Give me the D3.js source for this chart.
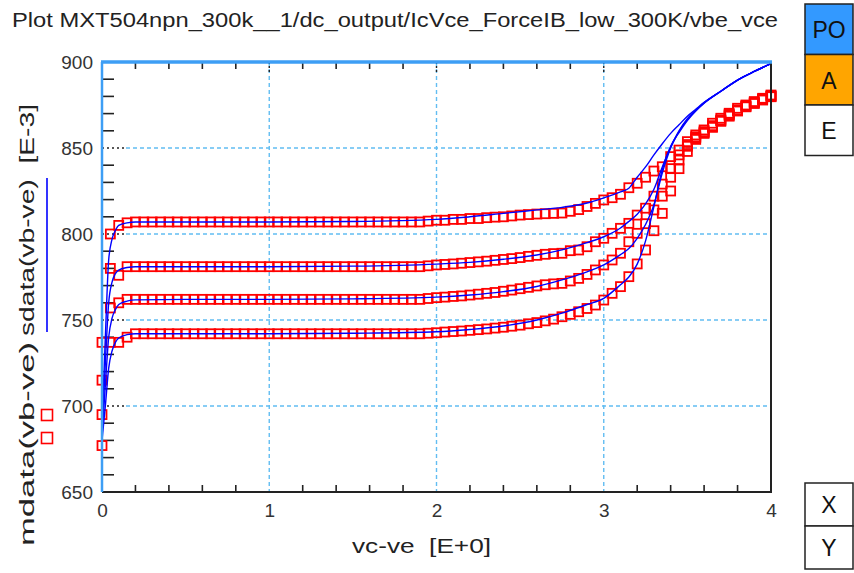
<!DOCTYPE html>
<html><head><meta charset="utf-8">
<script src="https://cdn.jsdelivr.net/npm/d3@7"></script>
<style>body{margin:0;background:#fff;} svg{display:block;font-family:"Liberation Sans",Arial,sans-serif;} text.pre{white-space:pre;}</style>
</head><body><svg id="c" width="854" height="573"></svg>
<script>
const titleText = "Plot MXT504npn_300k__1/dc_output/IcVce_ForceIB_low_300K/vbe_vce";
const xLabel = "vc-ve  [E+0]";
const yLabelSim = "sdata(vb-ve)  [E-3]";
const yLabelMeas = "mdata(vb-ve)";
const xTicks = [0,1,2,3,4];
const yTicks = [650,700,750,800,850,900];
const buttonsTop = ["PO","A","E"];
const buttonsBottom = ["X","Y"];

// measured x grid (V)
const mX = [0,0.05,0.1,0.15,0.2,0.25,0.3,0.35,0.4,0.45,0.5,0.55,0.6,0.65,0.7,0.75,0.8,0.85,0.9,0.95,
1.0,1.05,1.1,1.15,1.2,1.25,1.3,1.35,1.4,1.45,1.5,1.55,1.6,1.65,1.7,1.75,1.8,1.85,1.9,1.95,
2.0,2.05,2.1,2.15,2.2,2.25,2.3,2.35,2.4,2.45,2.5,2.55,2.6,2.65,2.7,2.75,2.8,2.85,2.9,2.95,
3.0,3.05,3.1,3.15,3.2,3.25,3.3,3.35,3.4,3.45,3.5,3.55,3.6,3.65,3.7,3.75,3.8,3.85,3.9,3.95,4.0];

// measured vb-ve (mV)
const meas1 = [737,800,805,806.5,807,807,807,807,807,807,807,807,807,807,807,807,807,807,807,807,
807,807,807,807,807,807,807,807,807,807,807,807,807,807,807,807,807,807,807,807.5,
808,808,808.5,808.5,809,809,809.5,809.8,810,810.5,811,811.3,811.6,811.8,812,812.2,813.2,814.2,816,817.8,
819.8,821.1,823.1,826.9,829.5,833,836.6,839.1,845,848.8,853.7,857.6,860.5,864.4,867.3,870.2,873.1,875,877,878.9,880.8];
const meas2 = [715,780,776,781,781,781,781,781,781,781,781,781,781,781,781,781,781,781,781,781,
781,781,781,781,781,781,781,781,781,781,781,781,781,781,781,781,781,781,781,781.5,
782,782.3,782.6,783,783.4,783.8,784.2,784.7,785.2,785.7,786.3,787,787.6,788.2,788.6,788.8,790.3,790.7,792.6,795.5,
797.5,800.4,803.3,806.2,811,815,822,829,838,846,852,856.5,859.5,863,866.3,869,872,874,876,878,880];
const meas3 = [695,757,760,762,762,762,762,762,762,762,762,762,762,762,762,762,762,762,762,762,
762,762,762,762,762,762,762,762,762,762,762,762,762,762,762,762,762,762,762,762.5,
763,763.3,763.7,764,764.5,765,765.5,766,766.7,767.4,768.2,769,769.8,770.5,771,771.3,772.7,774.2,776.5,779.1,
782,784.9,788.8,795.5,800.4,806,814,822,833,843,851,856,859,862.5,866,869.5,872,874.5,876.5,878.5,880.3];
const meas4 = [677,737,737,740,742,742,742,742,742,742,742,742,742,742,742,742,742,742,742,742,
742,742,742,742,742,742,742,742,742,742,742,742,742,742,742,742,742,742,742,742.3,
742.6,743,743.3,743.6,744,744.4,744.8,745.3,745.8,746.4,747,747.8,748.5,749.5,750.5,751.9,753.3,754.8,756.7,758.7,
761.6,765.5,769.4,775.2,782.6,790.7,801.9,812,825,838,848,855,858.5,862,865.5,868.5,871.5,874,876,878,879.8];

// simulated x grid (V)
const sX = [0,0.02,0.04,0.06,0.08,0.1,0.15,0.2,0.5,1.0,1.5,2.0,2.2,2.4,2.6,2.75,2.9,3.0,3.1,3.15,3.2,3.25,3.3,3.35,3.4,3.45,3.5,3.55,3.6,3.7,3.8,3.9,4.0];
const sim1 = [690,740,785,797,802,805,806.5,807,807,807,807.3,808.5,810,812,814,815.5,818,821,824.5,826.6,833,839,846,852.5,858.5,863.5,868.5,872.5,876.5,883,889.5,894.5,899];
const sim2 = [685,725,760,772,777,779,780.5,781,781,781,781.3,782.5,783.5,785.3,787.8,790.8,795,798.4,803.5,807.3,811.5,817.5,826,839,850.5,860,867,872,876.3,883,889.5,894.5,899];
const sim3 = [682,712,740,751,756,759,761,761.7,762,762,762.3,763.3,764.5,766.5,769.5,773.3,778,782,788,791.5,797.5,805.5,817,835.5,850,859.5,866.5,871.7,876.2,883,889.5,894.5,899];
const sim4 = [680,700,722,732,737,739.5,741.5,742,742,742,742.3,743.2,744.5,746.5,750,754,759,762.6,770.5,775,782.5,796,816,837.5,851,859,866,871.5,876,883,889.5,894.5,899];

const measSeries = [meas1, meas2, meas3, meas4];
const simSeries = [sim1, sim2, sim3, sim4];

const svg = d3.select("#c");
const x = d3.scaleLinear().domain([0,4]).range([102,771]);
const y = d3.scaleLinear().domain([650,900]).range([492,62]);

const gridColor = "#62bdf2";
const axisBlue = "#3d9ef5";

// grid
const gGrid = svg.append("g");
gGrid.selectAll("line.gy").data(yTicks.filter(d=>d>650 && d<900)).join("line")
  .attr("x1", x(0)+24).attr("x2", x(4)).attr("y1", d=>y(d)).attr("y2", d=>y(d))
  .attr("stroke", gridColor).attr("stroke-width",1.4).attr("stroke-dasharray","4,3");
gGrid.selectAll("line.gyb").data(yTicks.filter(d=>d>650 && d<900)).join("line")
  .attr("x1", x(0)).attr("x2", x(0)+24).attr("y1", d=>y(d)).attr("y2", d=>y(d))
  .attr("stroke", "#222").attr("stroke-width",1.4).attr("stroke-dasharray","2,3");
gGrid.selectAll("line.gx").data(xTicks.filter(d=>d>0 && d<4)).join("line")
  .attr("x1", d=>x(d)).attr("x2", d=>x(d)).attr("y1", y(900)).attr("y2", y(650))
  .attr("stroke", gridColor).attr("stroke-width",1.4).attr("stroke-dasharray","4,3");
gGrid.selectAll("line.gxb").data(xTicks.filter(d=>d>0 && d<4)).join("line")
  .attr("x1", d=>x(d)).attr("x2", d=>x(d)).attr("y1", y(900)).attr("y2", y(900)+10)
  .attr("stroke", "#222").attr("stroke-width",1.4).attr("stroke-dasharray","2,2");

// minor ticks
const yMinor = d3.range(660, 900, 10).filter(d => d % 50 !== 0);
const xMinor = d3.range(1, 20).map(i => i*0.2).filter(d => Math.abs(d - Math.round(d)) > 1e-6);
svg.append("g").selectAll("line").data(yMinor).join("line")
  .attr("x1", x(0)).attr("x2", x(0)+12).attr("y1", d=>y(d)).attr("y2", d=>y(d))
  .attr("stroke", "#222").attr("stroke-width", 1.6);
svg.append("g").selectAll("line").data(xMinor).join("line")
  .attr("x1", d=>x(d)).attr("x2", d=>x(d)).attr("y1", y(650)).attr("y2", y(650)-7)
  .attr("stroke", "#222").attr("stroke-width", 1.6);
svg.append("g").selectAll("line").data(xMinor).join("line")
  .attr("x1", d=>x(d)).attr("x2", d=>x(d)).attr("y1", y(900)).attr("y2", y(900)+7)
  .attr("stroke", "#222").attr("stroke-width", 1.6);

// measured squares
const colorsM = "#ff0000";
measSeries.forEach(series => {
  svg.append("g").selectAll("rect").data(mX.map((v,i)=>[v, series[i]])).join("rect")
    .attr("x", d => x(d[0]) - 4.5).attr("y", d => y(d[1]) - 4.5)
    .attr("width", 9).attr("height", 9)
    .attr("fill", "none").attr("stroke", colorsM).attr("stroke-width", 1.8);
});

// simulated lines
const line = d3.line().x(d => x(d[0])).y(d => y(d[1])).curve(d3.curveMonotoneX);
simSeries.forEach(series => {
  svg.append("path").datum(sX.map((v,i)=>[v, series[i]]))
    .attr("d", line).attr("fill", "none").attr("stroke", "#0000ff").attr("stroke-width", 1.4);
});

// frame
svg.append("line").attr("x1", x(4)).attr("x2", x(4)).attr("y1", y(900)).attr("y2", y(650)+1)
  .attr("stroke", "#222").attr("stroke-width", 2);
svg.append("line").attr("x1", x(0)).attr("x2", x(4)+1).attr("y1", y(650)).attr("y2", y(650))
  .attr("stroke", "#222").attr("stroke-width", 2);
svg.append("line").attr("x1", x(0)).attr("x2", x(0)).attr("y1", y(900)).attr("y2", y(650))
  .attr("stroke", axisBlue).attr("stroke-width", 2.5);
svg.append("line").attr("x1", x(0)-1).attr("x2", x(4)+1).attr("y1", y(900)).attr("y2", y(900))
  .attr("stroke", axisBlue).attr("stroke-width", 3.5);

// axes labels via d3 axes
const ax = svg.append("g").attr("transform", `translate(0,${y(650)})`)
  .call(d3.axisBottom(x).tickValues(xTicks).tickFormat(d3.format("d")).tickSize(0).tickPadding(12));
ax.select(".domain").remove();
ax.selectAll("text").attr("font-size", 19).attr("fill", "#333").attr("font-family", "Liberation Sans, Arial, sans-serif");
const ay = svg.append("g").attr("transform", `translate(${x(0)},0)`)
  .call(d3.axisLeft(y).tickValues(yTicks).tickFormat(d3.format("d")).tickSize(0).tickPadding(9));
ay.select(".domain").remove();
ay.selectAll("text").attr("font-size", 19).attr("fill", "#333").attr("font-family", "Liberation Sans, Arial, sans-serif");

// title
svg.append("text").attr("x", 12).attr("y", 27).attr("font-size", 20).attr("fill", "#222")
  .attr("textLength", 766).attr("lengthAdjust", "spacingAndGlyphs").text(titleText);

// x label
svg.append("text").attr("class","pre").attr("xml:space","preserve").attr("x", 352).attr("y", 553).attr("font-size", 20).attr("fill", "#222")
  .attr("textLength", 139).attr("lengthAdjust", "spacingAndGlyphs").text(xLabel);

// y labels (rotated)
svg.append("text").attr("class","pre").attr("xml:space","preserve").attr("transform", "translate(34,336) rotate(-90)").attr("font-size", 19.5).attr("fill", "#222")
  .attr("textLength", 232).attr("lengthAdjust", "spacingAndGlyphs").text(yLabelSim);
svg.append("text").attr("transform", "translate(34,546) rotate(-90)").attr("font-size", 19.5).attr("fill", "#222")
  .attr("textLength", 204).attr("lengthAdjust", "spacingAndGlyphs").text(yLabelMeas);

// legend markers
svg.append("line").attr("x1", 47).attr("x2", 47).attr("y1", 178).attr("y2", 332)
  .attr("stroke", "#0000ff").attr("stroke-width", 1.6);
svg.selectAll("rect.leg").data([415, 438]).join("rect").attr("class","leg")
  .attr("x", 41.5).attr("y", d => d - 5.5).attr("width", 11).attr("height", 11)
  .attr("fill", "none").attr("stroke", "#ff0000").attr("stroke-width", 1.6);

// buttons
const btnFill = {"PO":"#3399ff","A":"#ffa500","E":"#ffffff"};
const bt = svg.append("g").selectAll("g").data(buttonsTop).join("g")
  .attr("transform", (d,i) => `translate(805,${4 + i*50.5})`);
bt.append("rect").attr("width", 48).attr("height", 50.5).attr("fill", d => btnFill[d])
  .attr("stroke", "#222").attr("stroke-width", 1.5);
bt.append("text").attr("x", 24).attr("y", 34).attr("text-anchor", "middle").attr("font-size", 23)
  .attr("fill", "#111").text(d => d);
const bb = svg.append("g").selectAll("g").data(buttonsBottom).join("g")
  .attr("transform", (d,i) => `translate(805,${483 + i*43})`);
bb.append("rect").attr("width", 48).attr("height", 43).attr("fill", "#fff")
  .attr("stroke", "#222").attr("stroke-width", 1.5);
bb.append("text").attr("x", 24).attr("y", 30).attr("text-anchor", "middle").attr("font-size", 23)
  .attr("fill", "#111").text(d => d);
</script></body></html>
